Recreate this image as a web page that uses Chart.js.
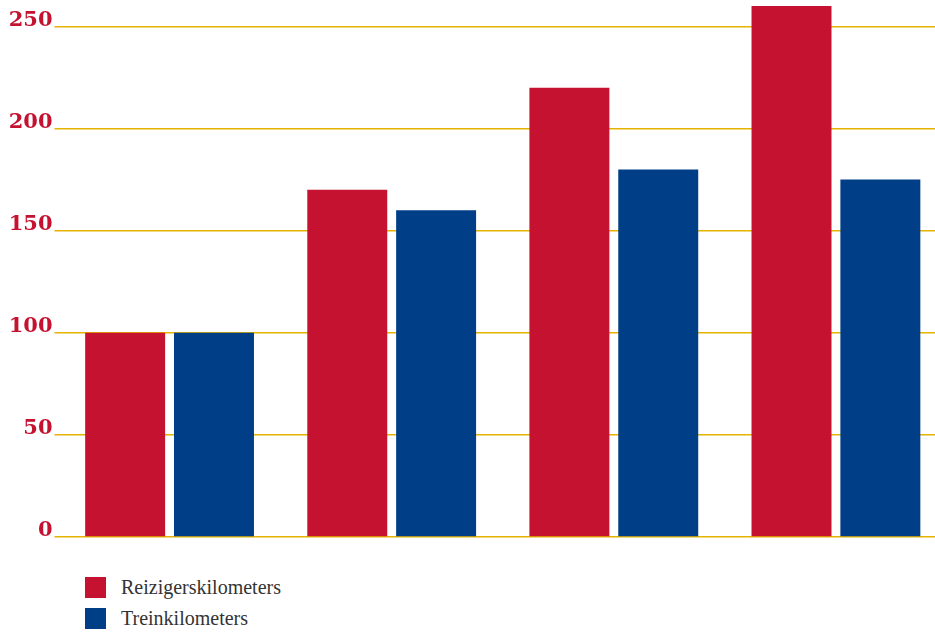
<!DOCTYPE html>
<html>
<head>
<meta charset="utf-8">
<script src="https://cdn.jsdelivr.net/npm/chart.js@4"></script>
<style>
  html, body { margin: 0; padding: 0; overflow: hidden; background: #fff; }
  #wrap { position: relative; width: 947px; height: 550px; }
  #legend { position: absolute; left: 85px; top: 572px; font-family: "Liberation Serif", serif; font-size: 20px; color: #333; }
  #legend div { display: flex; align-items: center; height: 31px; }
  #legend span.box { width: 21px; height: 21px; margin-right: 15px; }
</style>
</head>
<body>
<div id="wrap"><canvas id="chart"></canvas></div>
<div id="legend"></div>
<script>
// categorieën (geen labels zichtbaar in de grafiek)
const categories = ['1', '2', '3', '4'];
const seriesNames = ['Reizigerskilometers', 'Treinkilometers'];
const reizigers = [100, 170, 220, 260];
const treinen = [100, 160, 180, 175];
const tickValues = [0, 50, 100, 150, 200, 250];

const red = '#c41230';
const blue = '#003f87';
const gold = '#e5b300';

const ctx = document.getElementById('chart').getContext('2d');
const chart = new Chart(ctx, {
  type: 'bar',
  data: {
    labels: categories,
    datasets: [
      { label: seriesNames[0], data: reizigers, backgroundColor: red },
      { label: seriesNames[1], data: treinen, backgroundColor: blue }
    ]
  },
  options: {
    responsive: true,
    maintainAspectRatio: false,
    animation: false,
    categoryPercentage: 0.8,
    barPercentage: 0.9,
    layout: { padding: { top: 6, bottom: 5, left: 0, right: 0 } },
    plugins: { legend: { display: false }, tooltip: { enabled: false } },
    scales: {
      x: {
        grid: { display: false },
        border: { display: false },
        ticks: { display: false }
      },
      y: {
        min: 0,
        max: 260,
        afterBuildTicks: axis => {
          axis.ticks = tickValues.map(v => ({ value: v }));
        },
        afterFit: axis => {
          axis.width = 58.5;
          axis.paddingTop = 0;
          axis.paddingBottom = 0;
        },
        grid: { color: gold, lineWidth: 1.5, tickLength: 4, tickColor: gold },
        border: { display: false },
        ticks: {
          color: red,
          padding: 2,
          labelOffset: -6,
          font: { family: 'DejaVu Serif', weight: 'bold', size: 21 }
        }
      }
    }
  }
});

// legenda onder de grafiek, gebouwd uit de datasets
const legend = document.getElementById('legend');
chart.data.datasets.forEach(ds => {
  const row = document.createElement('div');
  row.innerHTML = '<span class="box" style="background:' + ds.backgroundColor + '"></span>' + ds.label;
  legend.appendChild(row);
});
</script>
</body>
</html>
